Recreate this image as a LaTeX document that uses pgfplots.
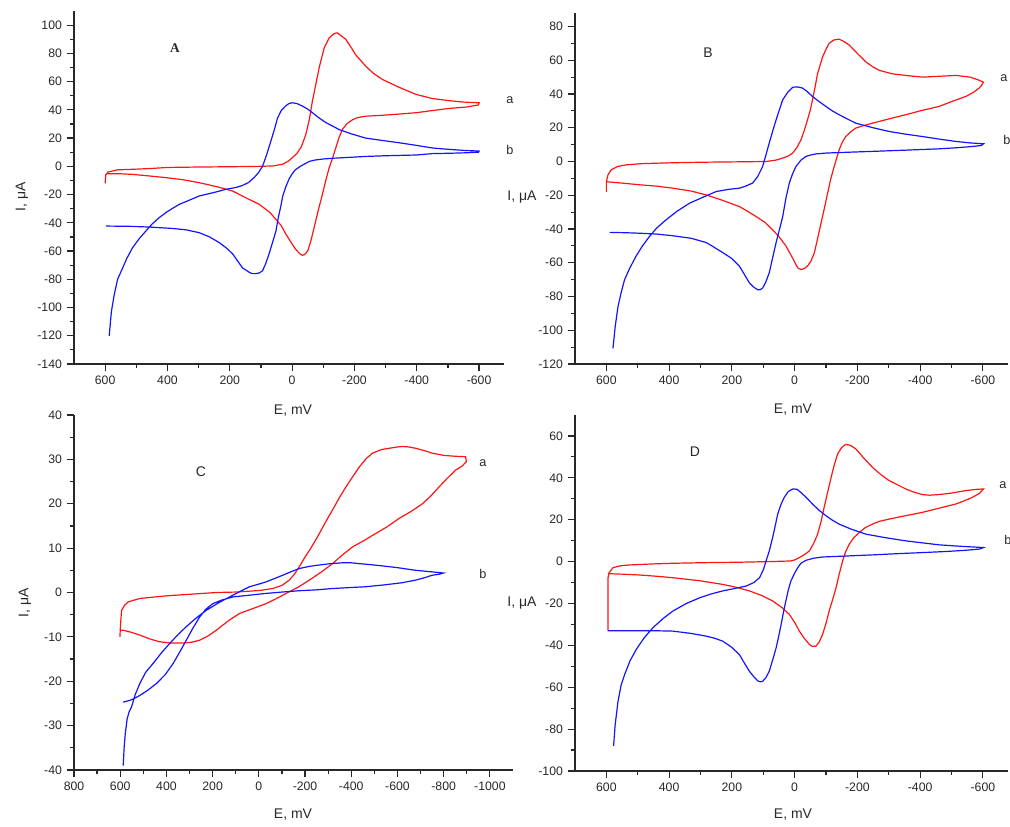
\documentclass[border=0pt]{standalone}
\usepackage{pgfplots}
\pgfplotsset{compat=1.18}
\usepackage{fontspec}
\setmainfont{Liberation Sans}
\newfontfamily\serifA{Liberation Serif}

\definecolor{cvred}{RGB}{255,20,20}
\definecolor{cvblue}{RGB}{20,20,255}
\definecolor{ink}{RGB}{40,40,40}

\pgfplotsset{
  cv/.style={
    scale only axis, anchor=south west,
    x dir=reverse,
    axis x line=bottom, axis y line=left,
    axis line style={-, line width=1.3pt, ink},
    tick align=outside,
    major tick length=5.5pt, minor tick length=3pt,
    every tick/.style={ink, line width=0.9pt},
    minor tick num=1,
    tick label style={font=\fontsize{9.2}{11}\selectfont, text=ink},
    /pgf/number format/assume math mode=true,
    /pgf/number format/1000 sep={},
  },
  ra/.style={color=cvred, line width=0.9pt},
  rb/.style={color=cvblue, line width=0.9pt},
}
\tikzset{lab/.style={font=\fontsize{10.5}{12}\selectfont, text=ink},
         let/.style={font=\fontsize{9.5}{11}\selectfont, text=ink}}

\begin{document}
\begin{tikzpicture}
\path[use as bounding box] (0pt,0pt) rectangle (757.5pt,-620.25pt);

% ---- panel A
\begin{axis}[cv, at={(55.5pt,-273pt)}, width=322.5pt, height=264.75pt,
  xmin=-680, xmax=700, ymin=-140, ymax=110,
  xtick={-600,-400,...,600}, ytick={-140,-120,...,100}]
\addplot[ra] coordinates {
(600,-12) (598,-6) (590,-4) (560,-2.5) (500,-2) (450,-1.5) (400,-0.8) (300,-0.5) (200,-0.3) (100,0) (60,0.3) (30,1.5) (10,4) (0,6) (-15,9) (-30,14) (-44,22.6) (-55,33) (-65,46) (-76,58) (-87,70) (-103,84) (-119,91) (-135,94) (-145,94.5) (-160,92) (-172,90) (-190,84) (-204,79) (-236,71) (-260,66) (-290,61.5) (-343,56) (-397,51) (-450,48) (-504,46.5) (-550,45.5) (-600,45)
(-598,43.5) (-560,42) (-504,41) (-450,39.5) (-400,38) (-343,37) (-280,36) (-236,35.5) (-210,34.5) (-194,33) (-175,30) (-161,26) (-150,20) (-140,13) (-130,6) (-119,-1) (-108,-10) (-97,-20) (-84,-31) (-71,-43) (-60,-53) (-50,-60) (-40,-62.5) (-33,-63) (-25,-62) (-12,-59) (0,-55) (20,-48) (35,-42) (52,-37.6) (70,-33) (84,-30.5) (105,-27) (127,-24.6) (160,-21) (191,-17.5) (240,-14.5) (298,-11.6) (350,-9.5) (405,-8) (460,-6.8) (512,-5.7) (560,-5.2) (596,-5.2)
};
\addplot[rb] coordinates {
(587,-120) (580,-103) (571,-91) (560,-80) (544,-72) (530,-65) (512,-57.6) (490,-51) (470,-46) (450,-41) (427,-36.4) (400,-32) (363,-27) (330,-24) (298,-21) (250,-18.5) (213,-16.3) (180,-15) (159,-13.5) (140,-11.5) (122,-8) (108,-4.5) (95,0) (82,8) (68,18) (57,26) (47,34) (35,39.5) (21,42.7) (10,44.5) (0,45) (-15,44.5) (-33,42.7) (-50,40.5) (-65,38) (-85,34.5) (-108,31) (-130,28.5) (-151,26) (-190,23) (-236,20) (-290,18.3) (-343,16.7) (-400,14.8) (-450,13) (-504,12) (-550,11.3) (-600,10.8)
(-598,10) (-560,9.6) (-514,9.3) (-450,9) (-397,8) (-300,7.5) (-236,7) (-180,6.3) (-129,5.7) (-100,5.2) (-75,4.5) (-55,3.5) (-43,2) (-30,0.5) (-22,-0.7) (-10,-2.5) (0,-5.4) (10,-9) (21,-15) (30,-21) (37,-29) (45,-37) (52,-46) (63,-54) (74,-62) (85,-69) (95,-74) (105,-75.5) (117,-76) (128,-76) (138,-75) (148,-73.5) (159,-72) (175,-67) (191,-62) (210,-58) (234,-54) (265,-50) (298,-47) (340,-45) (384,-44) (459,-43) (520,-42.5) (598,-42.3)
};
\end{axis}

% ---- panel B
\begin{axis}[cv, at={(431.25pt,-273pt)}, width=324.75pt, height=263.25pt,
  xmin=-680, xmax=700, ymin=-120, ymax=88,
  xtick={-600,-400,...,600}, ytick={-120,-100,...,80}]
\addplot[ra] coordinates {
(600,-18) (600,-12) (595,-8) (585,-5) (565,-3) (537,-2) (490,-1.3) (441,-1) (350,-0.6) (282,-0.4) (180,-0.2) (91,0) (60,0.8) (38,2) (20,3.3) (6,5) (-8,8.5) (-20,12.8) (-30,18) (-41,24.7) (-50,30.5) (-57,36.6) (-65,44) (-73,52) (-81,57) (-89,62) (-100,66.5) (-110,70) (-125,72) (-142,72.5) (-158,71) (-174,69) (-200,64) (-227,59) (-250,56) (-270,54) (-310,52) (-354,51) (-407,50) (-460,50.5) (-514,51) (-560,50) (-590,48) (-602,47)
(-595,45) (-588,43.5) (-570,41) (-545,38.5) (-500,35.5) (-460,32.6) (-400,30) (-354,27.7) (-300,25.2) (-248,22.7) (-220,21.3) (-195,19.8) (-180,17.8) (-163,14.8) (-152,11.5) (-142,7) (-134,2) (-126,-3) (-115,-10.5) (-105,-18.8) (-95,-27.5) (-84,-36.6) (-74,-45) (-63,-54) (-52,-59) (-41,-62) (-30,-63.5) (-20,-64) (-10,-63) (-4,-61) (10,-56) (28,-50) (50,-44.5) (70,-40.5) (95,-36) (123,-32.6) (150,-29.5) (176,-26.7) (230,-23) (282,-19.8) (330,-17.5) (388,-15.8) (440,-14.6) (494,-13.8) (550,-12.8) (598,-12)
};
\addplot[rb] coordinates {
(579,-110.7) (572,-98) (563,-86) (552,-77) (542,-70) (525,-63) (505,-56) (485,-50) (463,-44.5) (440,-39.5) (410,-34.6) (375,-29.5) (335,-24.7) (290,-21) (250,-17.8) (210,-16.5) (176,-15.8) (155,-14.5) (134,-12.8) (118,-9) (102,-3) (92,3.5) (81,10.9) (70,18) (59,24.7) (48,31) (38,36.6) (22,41) (6,44) (-10,44.2) (-25,43.5) (-40,41.5) (-57,38.5) (-78,35.5) (-100,32.6) (-120,30) (-142,27.7) (-170,25) (-195,22.7) (-250,20) (-301,17.8) (-350,16.3) (-407,14.8) (-460,13.3) (-514,11.9) (-560,11) (-602,10.5)
(-595,9.5) (-567,8.9) (-520,8.2) (-460,7.5) (-350,6.7) (-248,6) (-142,5.3) (-100,5) (-68,4.5) (-50,3.8) (-36,3) (-20,0.8) (-4,-3) (7,-7.5) (17,-12.8) (28,-22) (38,-32.6) (48,-40) (59,-48) (70,-57) (81,-66) (92,-71.5) (102,-75) (110,-76) (118,-76) (130,-74.5) (144,-72) (160,-67) (176,-62) (200,-57.5) (229,-54) (255,-51) (282,-48) (330,-45.5) (388,-44) (440,-43) (494,-42.5) (540,-42.2) (590,-42)
};
\end{axis}

% ---- panel C
\begin{axis}[cv, at={(55.5pt,-577.5pt)}, width=329.25pt, height=266.25pt,
  xmin=-1100, xmax=800, ymin=-40, ymax=40,
  xtick={-1000,-800,...,800}, ytick={-40,-30,...,40}]
\addplot[ra] coordinates {
(601,-10) (600,-8.5) (597,-6) (594,-4) (580,-2.8) (565,-2.1) (515,-1.35) (450,-1) (400,-0.75) (300,-0.4) (184,0) (100,0.1) (40,0.3) (-10,0.5) (-60,0.9) (-100,1.6) (-132,2.8) (-155,4.2) (-175,5.8) (-200,8) (-219,9.5) (-240,11.3) (-262,13.3) (-290,16) (-319,18.6) (-350,21.5) (-377,23.8) (-405,26) (-435,28.3) (-465,30.2) (-492,31.4) (-530,32.2) (-564,32.5) (-600,32.8) (-622,32.9) (-650,32.8) (-679,32.5) (-715,32) (-751,31.4) (-800,30.9) (-850,30.7) (-895,30.6) (-898,29.5)
(-880,28.5) (-852,27.6) (-815,25.7) (-780,23.8) (-745,21.8) (-708,20) (-660,18.3) (-607,16.7) (-555,14.8) (-506,13.3) (-455,11.7) (-406,10.3) (-360,8.4) (-319,6.5) (-270,4.6) (-219,2.8) (-170,1.2) (-118,-0.2) (-75,-1.4) (-32,-2.5) (25,-3.6) (83,-4.7) (130,-6.3) (184,-8.5) (220,-9.8) (256,-10.75) (290,-11.2) (328,-11.4) (380,-11.4) (429,-11.1) (470,-10.5) (515,-9.6) (550,-9) (587,-8.5) (598,-8.5)
};
\addplot[rb] coordinates {
(587,-39) (583,-35) (578,-31.8) (570,-28.5) (561,-26.8) (551,-25.8) (535,-23) (515,-20.5) (490,-18) (458,-16) (420,-13.5) (386,-11.5) (350,-9.5) (314,-7.7) (270,-5.7) (227,-4) (170,-2.2) (112,-0.6) (75,0.4) (40,1.3) (0,1.9) (-32,2.4) (-70,3.2) (-104,3.9) (-140,4.7) (-175,5.4) (-220,5.9) (-262,6.2) (-310,6.5) (-363,6.7) (-400,6.7) (-435,6.5) (-480,6.3) (-535,6) (-600,5.6) (-679,5) (-740,4.7) (-799,4.4)
(-780,4.1) (-751,3.9) (-715,3.3) (-679,2.8) (-620,2.2) (-540,1.7) (-463,1.3) (-390,1.1) (-319,0.9) (-250,0.6) (-175,0.4) (-100,0.1) (-32,-0.2) (40,-0.6) (112,-1) (160,-1.7) (199,-2.5) (230,-3.8) (256,-5.5) (285,-8) (314,-10.75) (340,-13.2) (371,-16) (405,-18.5) (443,-20.5) (480,-22) (515,-23.2) (540,-23.9) (558,-24.3) (587,-24.7)
};
\end{axis}

% ---- panel D
\begin{axis}[cv, at={(431.25pt,-578.25pt)}, width=324.75pt, height=267pt,
  xmin=-680, xmax=700, ymin=-100, ymax=70,
  xtick={-600,-400,...,600}, ytick={-100,-80,...,60}]
\addplot[ra] coordinates {
(595,-33) (595,-20) (595,-8) (592,-5.5) (579,-2.9) (555,-2) (526,-1.6) (450,-1.1) (388,-0.8) (280,-0.5) (176,-0.3) (80,0) (12,0.3) (0,0.8) (-15,1.9) (-30,3.2) (-47,5.1) (-60,8.5) (-73,13) (-84,19) (-94,25.9) (-105,33) (-116,40) (-126,46) (-137,51.4) (-150,54.5) (-163,56) (-178,55.5) (-195,53.8) (-220,49.5) (-248,45) (-275,41.5) (-301,38.7) (-330,36.5) (-354,34.7) (-380,33.2) (-407,32) (-430,31.7) (-460,32) (-500,32.7) (-545,33.9) (-580,34.5) (-602,34.7)
(-590,32.7) (-567,30.7) (-540,29) (-514,27.5) (-460,25.5) (-407,23.5) (-350,21.8) (-301,20.3) (-270,19.2) (-248,17.9) (-225,16.2) (-206,13.9) (-188,11.3) (-174,8.3) (-162,4.5) (-153,0.3) (-142,-6) (-132,-12.5) (-121,-18.2) (-110,-23.6) (-100,-29.5) (-89,-34.8) (-78,-38.5) (-68,-40.4) (-57,-40.5) (-47,-39.6) (-30,-36.5) (-15,-33.2) (0,-29) (17,-25.2) (40,-22) (70,-18.8) (105,-16.2) (144,-14) (185,-12.3) (229,-10.9) (300,-9.2) (388,-7.7) (440,-7) (494,-6.4) (550,-6) (590,-5.8) (595,-5.8)
};
\addplot[rb] coordinates {
(577,-88) (572,-78) (563,-66.8) (553,-59) (542,-54) (525,-47.5) (505,-42) (480,-36.5) (452,-31.6) (420,-27.3) (388,-23.6) (345,-20) (303,-17.3) (265,-15.4) (229,-14) (190,-12.8) (155,-11.7) (130,-10) (112,-7.7) (100,-4) (91,0.3) (80,5.5) (70,11.5) (62,17) (54,22.7) (43,27.5) (33,30.7) (20,33.5) (6,34.7) (-8,34.5) (-20,33) (-38,30.5) (-57,27.5) (-78,24.5) (-100,21.9) (-120,19.8) (-142,17.9) (-180,15.5) (-227,13.1) (-290,11.4) (-354,9.9) (-410,8.9) (-460,8) (-530,7.3) (-602,6.7)
(-590,6) (-545,5.4) (-480,4.8) (-407,4.3) (-330,3.8) (-248,3.2) (-170,2.7) (-89,2.2) (-60,1.6) (-36,0.6) (-20,-0.8) (-10,-2.9) (0,-5.5) (12,-9.3) (20,-13.5) (28,-18.8) (36,-24.5) (43,-30) (51,-35.8) (59,-41.2) (70,-47) (81,-52.4) (92,-55.5) (102,-57.2) (110,-57.4) (118,-56.9) (130,-55) (144,-52.4) (160,-48.5) (176,-44.4) (200,-41) (229,-38) (255,-36.6) (282,-35.6) (330,-34.3) (388,-33.2) (450,-33) (520,-33) (595,-33)
};
\end{axis}

% ---- texts
\node[font=\serifA\bfseries\fontsize{10}{12}\selectfont, text=ink] at (131.25pt,-36pt) {A};
\node[let] at (382.5pt,-75pt) {a};
\node[let] at (382.5pt,-112.5pt) {b};
\node[lab, rotate=90] at (16.5pt,-147.75pt) {I, μA};
\node[lab] at (219.75pt,-308.25pt) {E, mV};

\node[let, font=\fontsize{10.5}{12}\selectfont] at (531pt,-39.75pt) {B};
\node[let] at (753pt,-58.5pt) {a};
\node[let] at (755.25pt,-105pt) {b};
\node[lab] at (391.5pt,-147.75pt) {I, μA};
\node[lab] at (594.75pt,-307.5pt) {E, mV};

\node[let, font=\fontsize{10.5}{12}\selectfont] at (150.75pt,-354pt) {C};
\node[let] at (362.25pt,-347.25pt) {a};
\node[let] at (362.25pt,-430.5pt) {b};
\node[lab, rotate=90] at (18.75pt,-452.25pt) {I, μA};
\node[lab] at (219.75pt,-611.25pt) {E, mV};

\node[let, font=\fontsize{10.5}{12}\selectfont] at (521.25pt,-339pt) {D};
\node[let] at (752.25pt,-363.75pt) {a};
\node[let] at (756pt,-405pt) {b};
\node[lab] at (391.5pt,-452.25pt) {I, μA};
\node[lab] at (594.75pt,-611.25pt) {E, mV};
\end{tikzpicture}
\end{document}
